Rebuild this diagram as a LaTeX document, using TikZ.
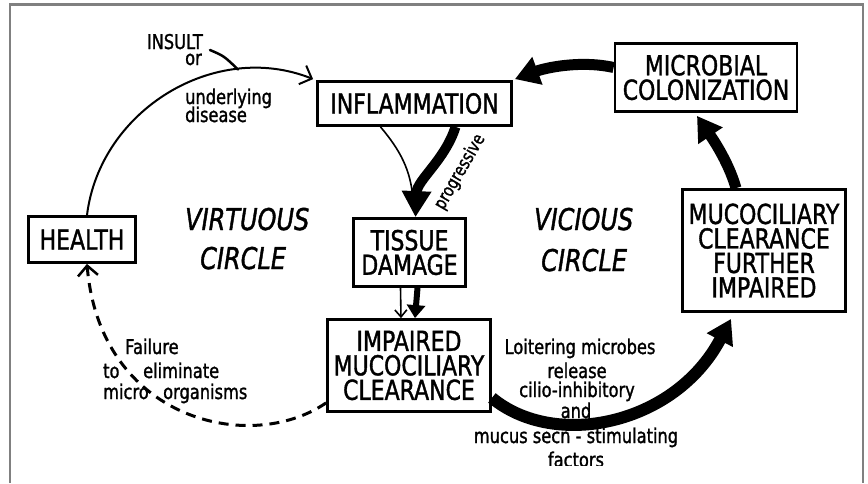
\documentclass[tikz,border=0pt]{standalone}
\usepackage{fontspec}
\setmainfont{DejaVu Sans}[FakeStretch=0.8,FakeBold=1.3]
\usetikzlibrary{arrows.meta,calc}
\definecolor{framegray}{RGB}{128,128,128}
\newcommand\bxfont{\fontsize{27.5}{24.5}\selectfont}
\newcommand\smfont{\fontsize{20.3}{22}\selectfont}
\newcommand\bigitfont{\fontsize{30}{30}\selectfont\itshape}
\newcommand\prfont{\fontsize{18}{18}\selectfont}
\begin{document}
\begin{tikzpicture}[x=1pt,y=-1pt,
  box/.style={draw,line width=2.8pt,inner sep=0pt,align=center,font=\bxfont},
  smtxt/.style={inner sep=0pt,font=\smfont},
  bigtxt/.style={inner sep=0pt,font=\bigitfont,anchor=base west},
  bigarrow/.style={line width=11pt,-{Triangle[length=24pt,width=28pt]}},
  thinarr/.style={line width=2pt,-{Straight Barb[length=10pt,width=20pt,line width=2pt]}},
  dasharr/.style={line width=3pt,dash pattern=on 10pt off 7pt,-{Straight Barb[length=10pt,width=20pt,line width=2.5pt]}},
]
\useasboundingbox (0,0) rectangle (868,483);
\fill[white] (0,0) rectangle (868,483);
% frame
\draw[framegray,line width=2.5pt] (10,483) -- (10,4.5) -- (863,4.5) -- (863,483);

% boxes
\node[box,minimum width=107pt,minimum height=46pt] (health) at (82,239.5) {HEALTH};
\node[box,minimum width=194pt,minimum height=44pt] (infl) at (414.5,103.5) {INFLAMMATION};
\node[box,minimum width=182pt,minimum height=68pt] (micro) at (706,77.5) {MICROBIAL\\COLONIZATION};
\node[box,minimum width=112pt,minimum height=68pt] (tissue) at (409.5,252.5) {TISSUE\\DAMAGE};
\node[box,minimum width=163pt,minimum height=92pt] (imp) at (409,365.5) {IMPAIRED\\MUCOCILIARY\\CLEARANCE};
\node[box,minimum width=163pt,minimum height=122pt] (further) at (764,250.5) {MUCOCILIARY\\CLEARANCE\\FURTHER\\IMPAIRED};

% big italic labels
\node[bigtxt] (virt) at (185,230) {VIRTUOUS};
\node[bigtxt] (circ1) at (200,269) {CIRCLE};
\node[bigtxt] (vic) at (534,230) {VICIOUS};
\node[bigtxt] (circ2) at (541,271) {CIRCLE};

% small labels
\node[smtxt,anchor=base east] (insult) at (203,49) {INSULT};
\node[smtxt,anchor=base west] (or) at (185,65) {or};
\node[smtxt,anchor=base west] (under) at (185,104) {underlying};
\node[smtxt,anchor=base west] (dis) at (185,122) {disease};

\node[smtxt,anchor=base west] (fail) at (125,354) {Failure};
\node[smtxt,anchor=base west] (to) at (103,378) {to};
\node[smtxt,anchor=base west] (elim) at (143,378) {eliminate};
\node[smtxt,anchor=base west] (micr) at (103,399) {micro};
\node[smtxt,anchor=base west] (org) at (163,399) {organisms};

\node[smtxt,anchor=base] (l1) at (580,354) {Loitering microbes};
\node[smtxt,anchor=base] (l2) at (577,378) {release};
\node[smtxt,anchor=base] (l3) at (577,397) {cilio-inhibitory};
\node[smtxt,anchor=base] (l4) at (576,418) {and};
\node[smtxt,anchor=base] (l5) at (576,443) {mucus secn - stimulating};
\begin{scope}
  \clip (0,0) rectangle (868,465);
  \node[smtxt,anchor=base] (l6) at (576,467) {factors};
\end{scope}

\node[inner sep=0pt,font=\prfont,rotate=60] (prog) at (460,172) {progressive};

% coordinates for free ends
\coordinate (insA) at (210,50);
\coordinate (insB) at (238,69.5);
\coordinate (thinend) at (413,200);

% virtuous circle
\draw[thinarr] ([xshift=5pt]health.north) .. controls (100,110) and (215,40) .. ([xshift=-3pt,yshift=1pt]infl.north west);
\draw[line width=2.5pt,line cap=round] (insA) .. controls (224,56) .. (insB);
\draw[line width=1.6pt] ([xshift=-34pt]infl.south) .. controls (400,150) and (411,170) .. (thinend);
\draw[line width=1.6pt,-{Straight Barb[length=7pt,width=12pt,line width=1.6pt]}] ([xshift=-9pt]tissue.south) -- ([xshift=-8pt]imp.north);
\draw[line width=6pt,-{Triangle[length=13pt,width=18pt]}] ([xshift=8pt]tissue.south) -- ([xshift=6pt]imp.north);
\draw[dasharr] ([yshift=10pt]imp.south west) .. controls (250,455) and (100,420) .. ([xshift=5pt]health.south);

% vicious circle
\draw[line width=10pt,-{Triangle[length=26pt,width=28pt]}] ([xshift=41pt]infl.south) .. controls (445,160) and (417,180) .. ([xshift=6pt]tissue.north);
\draw[bigarrow,line width=12pt] ([yshift=15pt]imp.south east) .. controls (555,450) and (675,425) .. ([xshift=-33pt,yshift=-6pt]further.south);
\draw[bigarrow] ([xshift=-28pt]further.north) .. controls (728,160) and (710,135) .. ([xshift=-9pt,yshift=-3pt]micro.south);
\draw[bigarrow] ([yshift=10pt]micro.west) .. controls (580,60) and (545,68) .. ([xshift=2pt,yshift=1pt]infl.north east);
\end{tikzpicture}
\end{document}
